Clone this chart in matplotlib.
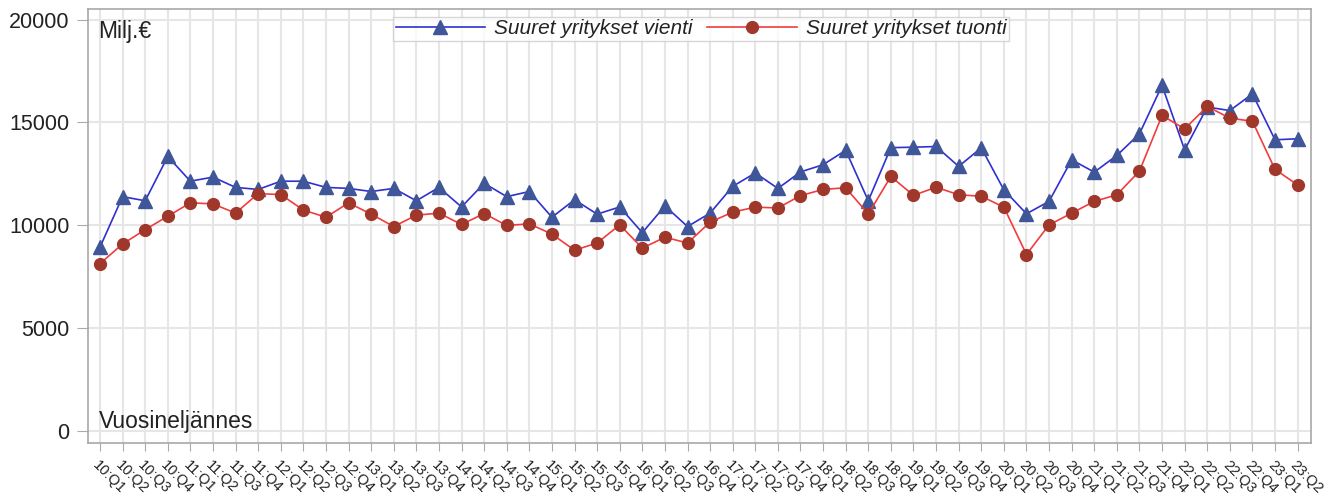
import matplotlib
matplotlib.use("Agg")
import matplotlib.pyplot as plt
from matplotlib.lines import Line2D

plt.rcParams['font.family'] = ['Liberation Sans', 'DejaVu Sans']

quarters = [f"{y}:Q{q}" for y in range(10, 24) for q in range(1, 5)][:54]

vienti = [8950, 11400, 11200, 13350, 12150, 12350, 11850, 11750, 12150, 12150,
          11850, 11800, 11650, 11800, 11200, 11850, 10900, 12050, 11400, 11650,
          10400, 11250, 10550, 10900, 9650, 10950, 9950, 10600, 11900, 12550,
          11800, 12600, 12950, 13650, 11200, 13780, 13800, 13835, 12870, 13770,
          11730, 10570, 11170, 13190, 12590, 13400, 14450, 16800, 13670, 15750,
          15580, 16390, 14160, 14210]

tuonti = [8150, 9100, 9800, 10450, 11100, 11050, 10600, 11550, 11500, 10750,
          10400, 11100, 10550, 9950, 10500, 10600, 10050, 10580, 10000, 10080,
          9580, 8800, 9150, 10030, 8900, 9430, 9150, 10160, 10650, 10890,
          10850, 11450, 11750, 11830, 10560, 12380, 11460, 11860, 11490, 11420,
          10890, 8590, 10030, 10600, 11170, 11490, 12640, 15340, 14690, 15780,
          15210, 15060, 12720, 11970]

yticks = [0, 5000, 10000, 15000, 20000]

blue_line, blue_mark = '#3030d0', '#3f5699'
red_line, red_mark = '#f23c3c', '#a0372b'

fig = plt.figure(figsize=(13.41, 4.97), dpi=100)
ax = fig.add_axes([0.0653, 0.1087, 0.9776 - 0.0653, 0.9819 - 0.1087])

x = list(range(len(quarters)))
ax.plot(x, vienti, color=blue_line, lw=1.2, marker='^', markersize=9.5,
        markerfacecolor=blue_mark, markeredgecolor=blue_mark, zorder=3)
ax.plot(x, tuonti, color=red_line, lw=1.2, marker='o', markersize=8.5,
        markerfacecolor=red_mark, markeredgecolor=red_mark, zorder=3)

ax.set_xlim(-0.55, 53.59)
ax.set_ylim(-558, 20510)
ax.set_xticks(x)
ax.set_xticklabels(quarters, rotation=-45, ha='left', va='top',
                   rotation_mode='anchor', fontsize=10.5, color='#222222')
ax.set_yticks(yticks)
ax.set_yticklabels([str(v) for v in yticks], fontsize=15.5, color='#222222')
ax.tick_params(axis='x', length=6, color='#aaaaaa', pad=5)
ax.tick_params(axis='y', length=8, color='#aaaaaa', pad=5)

ax.grid(True, color='#e6e6e6', lw=1.5)
ax.set_axisbelow(True)
for s in ax.spines.values():
    s.set_color('#a8a8a8')
    s.set_linewidth(1.2)

ax.text(0.009, 0.975, 'Milj.€', transform=ax.transAxes, ha='left', va='top',
        fontsize=16.5, color='#222222')
ax.text(0.009, 0.022, 'Vuosineljännes', transform=ax.transAxes, ha='left',
        va='bottom', fontsize=16.5, color='#222222')

handles = [
    Line2D([0], [0], color=blue_line, lw=1.2, marker='^', markersize=9.5,
           markerfacecolor=blue_mark, markeredgecolor=blue_mark),
    Line2D([0], [0], color=red_line, lw=1.2, marker='o', markersize=8.5,
           markerfacecolor=red_mark, markeredgecolor=red_mark),
]
leg = ax.legend(handles, ['Suuret yritykset vienti', 'Suuret yritykset tuonti'],
                loc='upper center', bbox_to_anchor=(0.5015, 0.982), ncol=2,
                frameon=True, fancybox=False, handlelength=4.3,
                columnspacing=0.7, handletextpad=0.43, borderpad=0.12,
                borderaxespad=0.0, prop={'style': 'italic', 'size': 15})
leg.get_frame().set_edgecolor('#cccccc')
leg.get_frame().set_linewidth(1.0)
for t in leg.get_texts():
    t.set_color('#222222')

fig.savefig('out.png', dpi=100)
